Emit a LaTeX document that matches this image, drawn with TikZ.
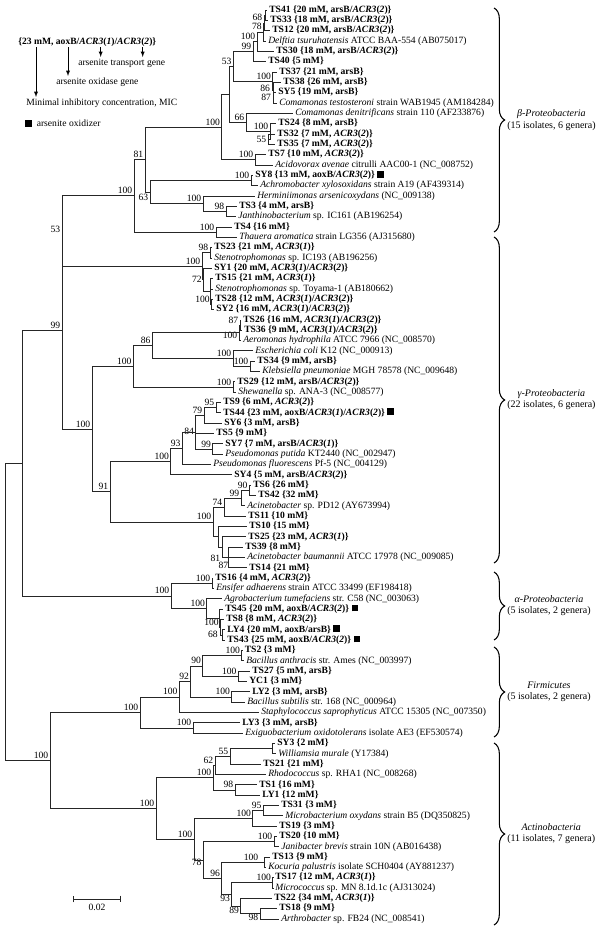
\documentclass[tikz,border=0pt]{standalone}
\usepackage{fontspec}
\setmainfont{Liberation Serif}
\usetikzlibrary{calc,decorations.pathreplacing,arrows.meta}

\newcommand\acr[1]{\textit{ACR3}(\textit{#1})}
\newcommand\sq{~\rule{5pt}{5pt}}
% leaf: name, row, tip x, text
\newcommand\leaf[4]{\node[leaf] (#1) at (#3,{10+(#2-1)*10.33}) {#4};}
% isolate: [extra], name, row, tip x, {MIC, genes}
\newcommand\iso[5][]{\leaf{#2}{#3}{#4}{\textbf{#2 \{#5\}}#1}}
% clade: [label opts], name, x, children, bootstrap
\newcommand\clade[5][]{%
  \foreach \ch [count=\i] in {#4} {\ifnum\i=1 \xdef\cfirst{\ch}\fi \xdef\clast{\ch}}%
  \coordinate (#2mid) at ($(\cfirst)!.5!(\clast)$);
  \coordinate (#2xx) at (#3,0);
  \coordinate (#2) at (#2mid -| #2xx);
  \foreach \ch in {#4} \draw[branch] (#2) |- (\ch);
  \if\relax\detokenize{#5}\relax\else
    \node[boot,#1] (#2lab) at ($(#2)+(-1.5,-2)$) {#5};
  \fi}

\begin{document}
\begin{tikzpicture}[
x=0.75pt, y=-0.75pt,
branch/.style={
  draw=black!85,
  line width=0.6pt
  },
leaf/.style={
  anchor=west,
  inner xsep=1.5pt,
  inner ysep=0pt,
  text height=5pt,
  text depth=1.6pt,
  font=\fontsize{7.2}{8}\selectfont
  },
boot/.style={
  anchor=base east,
  inner sep=0pt,
  font=\fontsize{7.2}{8}\selectfont
  },
legtext/.style={
  anchor=west,
  inner xsep=0pt,
  inner ysep=1pt,
  text height=5pt,
  text depth=1.6pt,
  font=\fontsize{7.2}{8}\selectfont
  },
gbrace/.style={
  decorate,
  decoration={brace,amplitude=8pt},
  line width=0.8pt
  },
grp/.style={
  anchor=west,
  inner sep=0pt,
  align=center,
  font=\fontsize{7.5}{8.4}\selectfont
  },
>=latex
]
\useasboundingbox (0,0) rectangle (600,927);

% legend
\node[legtext] (key) at (18,42) {\textbf{\{23 mM, aoxB/\acr{1}/\acr{2}\}}};
\node[legtext] (trg) at (78,63) {arsenite transport gene};
\node[legtext] (oxg) at (56,82) {arsenite oxidase gene};
\node[legtext] (mic) at (26,103) {Minimal inhibitory concentration, MIC};
\coordinate (k1) at (36,47.5);
\coordinate (k2) at (68,47.5);
\coordinate (k3) at (100.7,47.5);
\coordinate (k4) at (142.7,47.5);
\draw[->] (k1) -- (k1 |- mic.north);
\draw[->] (k2) -- (k2 |- oxg.north);
\draw[->] (k3) -- (k3 |- trg.north);
\draw[->] (k4) -- (k4 |- trg.north);
\node[fill, inner sep=0pt, minimum size=5.2pt] (oxsq) at (28.5,123.5) {};
\node[legtext] (oxl) at (36.5,124) {arsenite oxidizer};

% leaves, top to bottom
\iso{TS41}{1}{267}{20 mM, arsB/\acr{2}}
\iso{TS33}{2}{268}{18 mM, arsB/\acr{2}}
\iso{TS12}{3}{270}{20 mM, arsB/\acr{2}}
\leaf{Delftia}{4}{266}{\textit{Delftia tsuruhatensis} ATCC BAA-554 (AB075017)}
\iso{TS30}{5}{274}{18 mM, arsB/\acr{2}}
\iso{TS40}{6}{266}{5 mM}
\iso{TS37}{7}{277}{21 mM, arsB}
\iso{TS38}{8}{281}{26 mM, arsB}
\iso{SY5}{9}{276}{19 mM, arsB}
\leaf{Ctest}{10}{277}{\textit{Comamonas testosteroni} strain WAB1945 (AM184284)}
\leaf{Cdenit}{11}{293}{\textit{Comamonas denitrificans} strain 110 (AF233876)}
\iso{TS24}{12}{276}{8 mM, arsB}
\iso{TS32}{13}{275}{7 mM, \acr{2}}
\iso{TS35}{14}{275}{7 mM, \acr{2}}
\iso{TS7}{15}{266}{10 mM, \acr{2}}
\leaf{Acido}{16}{273}{\textit{Acidovorax avenae} citrulli AAC00-1 (NC\_008752)}
\iso[\sq]{SY8}{17}{253}{13 mM, aoxB/\acr{2}}
\leaf{Achro}{18}{258}{\textit{Achromobacter xylosoxidans} strain A19 (AF439314)}
\leaf{Hermin}{19}{255}{\textit{Herminiimonas arsenicoxydans} (NC\_009138)}
\iso{TS3}{20}{237}{4 mM, arsB}
\leaf{Janth}{21}{236}{\textit{Janthinobacterium} sp. IC161 (AB196254)}
\iso{TS4}{22}{232}{16 mM}
\leaf{Thauera}{23}{237}{\textit{Thauera aromatica} strain LG356 (AJ315680)}
\iso{TS23}{24}{212}{21 mM, \acr{1}}
\leaf{StenoA}{25}{212}{\textit{Stenotrophomonas} sp. IC193 (AB196256)}
\iso{SY1}{26}{212}{20 mM, \acr{1}/\acr{2}}
\iso{TS15}{27}{213}{21 mM, \acr{1}}
\leaf{StenoB}{28}{213}{\textit{Stenotrophomonas} sp. Toyama-1 (AB180662)}
\iso{TS28}{29}{213}{12 mM, \acr{1}/\acr{2}}
\iso{SY2}{30}{214}{16 mM, \acr{1}/\acr{2}}
\iso{TS26}{31}{241}{16 mM, \acr{1}/\acr{2}}
\iso{TS36}{32}{242}{9 mM, \acr{1}/\acr{2}}
\leaf{Aerom}{33}{241}{\textit{Aeromonas hydrophila} ATCC 7966 (NC\_008570)}
\leaf{Ecoli}{34}{253}{\textit{Escherichia coli} K12 (NC\_000913)}
\iso{TS34}{35}{255}{9 mM, arsB}
\leaf{Klebs}{36}{260}{\textit{Klebsiella pneumoniae} MGH 78578 (NC\_009648)}
\iso{TS29}{37}{235}{12 mM, arsB/\acr{2}}
\leaf{Shewa}{38}{236}{\textit{Shewanella} sp. ANA-3 (NC\_008577)}
\iso{TS9}{39}{221}{6 mM, \acr{2}}
\iso[\sq]{TS44}{40}{221}{23 mM, aoxB/\acr{1}/\acr{2}}
\iso{SY6}{41}{222}{3 mM, arsB}
\iso{TS5}{42}{214}{9 mM}
\iso{SY7}{43}{223}{7 mM, arsB/\acr{1}}
\leaf{Pputida}{44}{223}{\textit{Pseudomonas putida} KT2440 (NC\_002947)}
\leaf{Pfluor}{45}{211}{\textit{Pseudomonas fluorescens} Pf-5 (NC\_004129)}
\iso{SY4}{46}{232}{5 mM, arsB/\acr{2}}
\iso{TS6}{47}{251}{26 mM}
\iso{TS42}{48}{256}{32 mM}
\leaf{AcinA}{49}{245}{\textit{Acinetobacter} sp. PD12 (AY673994)}
\iso{TS11}{50}{246}{10 mM}
\iso{TS10}{51}{247}{15 mM}
\iso{TS25}{52}{246}{23 mM, \acr{1}}
\iso{TS39}{53}{243}{8 mM}
\leaf{AcinB}{54}{245}{\textit{Acinetobacter baumannii} ATCC 17978 (NC\_009085)}
\iso{TS14}{55}{247}{21 mM}
\iso{TS16}{56}{213}{4 mM, \acr{2}}
\leaf{Ensif}{57}{214}{\textit{Ensifer adhaerens} strain ATCC 33499 (EF198418)}
\leaf{Agrob}{58}{222}{\textit{Agrobacterium tumefaciens} str. C58 (NC\_003063)}
\iso[\sq]{TS45}{59}{223}{20 mM, aoxB/\acr{2}}
\iso{TS8}{60}{224}{8 mM, \acr{2}}
\iso[\sq]{LY4}{61}{225}{20 mM, aoxB/arsB}
\iso[\sq]{TS43}{62}{225}{25 mM, aoxB/\acr{2}}
\iso{TS2}{63}{242.5}{3 mM}
\leaf{Banth}{64}{244}{\textit{Bacillus anthracis} str. Ames (NC\_003997)}
\iso{TS27}{65}{250}{5 mM, arsB}
\iso{YC1}{66}{247}{3 mM}
\iso{LY2}{67}{250}{3 mM, arsB}
\leaf{Bsubt}{68}{245}{\textit{Bacillus subtilis} str. 168 (NC\_000964)}
\leaf{Staph}{69}{259}{\textit{Staphylococcus saprophyticus} ATCC 15305 (NC\_007350)}
\iso{LY3}{70}{240}{3 mM, arsB}
\leaf{Exigu}{71}{243}{\textit{Exiguobacterium oxidotolerans} isolate AE3 (EF530574)}
\iso{SY3}{72}{275}{2 mM}
\leaf{Willi}{73}{276}{\textit{Williamsia murale} (Y17384)}
\iso{TS21}{74}{261}{21 mM}
\leaf{Rhodo}{75}{266}{\textit{Rhodococcus} sp. RHA1 (NC\_008268)}
\iso{TS1}{76}{257}{16 mM}
\iso{LY1}{77}{260}{12 mM}
\iso{TS31}{78}{279}{3 mM}
\leaf{Micro}{79}{283}{\textit{Microbacterium oxydans} strain B5 (DQ350825)}
\iso{TS19}{80}{277}{3 mM}
\iso{TS20}{81}{277}{10 mM}
\leaf{Janib}{82}{279}{\textit{Janibacter brevis} strain 10N (AB016438)}
\iso{TS13}{83}{270}{9 mM}
\leaf{Kocur}{84}{266}{\textit{Kocuria palustris} isolate SCH0404 (AY881237)}
\iso{TS17}{85}{273}{12 mM, \acr{1}}
\leaf{Micrc}{86}{273}{\textit{Micrococcus} sp. MN 8.1d.1c (AJ313024)}
\iso{TS22}{87}{272}{34 mM, \acr{1}}
\iso{TS18}{88}{277}{9 mM}
\leaf{Arthr}{89}{279}{\textit{Arthrobacter} sp. FB24 (NC\_008541)}

% beta-Proteobacteria
\clade{cTop1}{265}{TS41,TS33}{}
\clade{cTop2}{264}{cTop1,TS12}{68}
\clade{cTop3}{263.5}{cTop2,Delftia}{78}
\clade{cTop4}{257}{cTop3,TS30}{100}
\clade{c99a}{253}{cTop4,TS40}{99}
\clade[shift={(-1,4.5)}]{c87a}{273.7}{SY5,Ctest}{87}
\clade[shift={(-1.5,3.5)}]{c86a}{273.2}{TS38,c87a}{86}
\clade{c100a}{272.7}{TS37,c86a}{100}
\clade{c53a}{233.3}{c99a,c100a}{53}
\clade[shift={(0,5)}]{c55a}{268}{TS32,TS35}{55}
\clade{c100b}{270}{TS24,c55a}{100}
\clade{c66a}{246}{Cdenit,c100b}{66}
\clade{cX}{229}{c53a,c66a}{}
\clade{c100c}{255}{TS7,Acido}{100}
\clade{c100d}{221.7}{cX,c100c}{100}
\clade{c100e}{251}{SY8,Achro}{100}
\clade{c98a}{226}{TS3,Janth}{98}
\clade{c100f}{203}{Hermin,c98a}{100}
\clade[shift={(0,10)}]{c63}{150}{c100e,c100f}{63}
\clade{c81}{145}{c100d,c63}{81}
\clade{c100g}{216}{TS4,Thauera}{100}
\clade{beta}{134}{c81,c100g}{100}

% gamma-Proteobacteria
\clade{c98b}{210}{TS23,StenoA}{98}
\clade{c100h}{211.5}{TS28,SY2}{100}
\clade{cSt}{210.5}{TS15,StenoB,c100h}{}
\clade[shift={(0,5)}]{c72}{203.5}{SY1,cSt}{72}
\clade{c100i}{202}{c98b,c72}{100}
\clade[shift={(0,3)}]{c53b}{62}{beta,c100i}{53}
\clade{c87b}{240}{TS26,TS36}{87}
\clade[shift={(0,8)}]{c100j}{239}{c87b,Aerom}{100}
\clade{c100k}{250}{TS34,Klebs}{100}
\clade{c100l}{233}{Ecoli,c100k}{100}
\clade{c86b}{152.3}{c100j,c100l}{86}
\clade{c100m}{233}{TS29,Shewa}{100}
\clade{c100n}{133.3}{c86b,c100m}{100}
\clade{c95a}{216}{TS9,TS44}{95}
\clade{c79}{204}{c95a,SY6}{79}
\clade{c99b}{212.7}{SY7,Pputida}{99}
\clade[shift={(0,4)}]{c84}{195.7}{c79,TS5,c99b}{84}
\clade{c93a}{182.3}{c84,Pfluor}{93}
\clade{c100o}{170.7}{c93a,SY4}{100}
\clade{c90a}{249.3}{TS6,TS42}{90}
\clade{c99c}{241}{c90a,AcinA}{99}
\clade{c74}{224}{c99c,TS11}{74}
\clade[shift={(2,13)}]{c87c}{228}{TS39,AcinB,TS14}{87}
\clade[shift={(0,16)}]{c81b}{222}{TS25,c87c}{81}
\clade{cTS10}{218}{TS10,c81b}{}
\clade{c100p}{213}{c74,cTS10}{100}
\clade{c91}{110}{c100o,c100p}{91}
\clade{c100q}{92}{c100n,c91}{100}
\clade{c99d}{62}{c53b,c100q}{99}

% alpha-Proteobacteria
\clade{c100r}{212}{TS16,Ensif}{100}
\clade[shift={(-2.5,5)}]{c68b}{222}{LY4,TS43}{68}
\clade{c100s}{220.5}{TS8,c68b}{100}
\clade{cTS45}{219}{TS45,c100s}{}
\clade{c100t}{206.7}{Agrob,cTS45}{100}
\clade{alpha}{171}{c100r,c100t}{100}
\clade{cA}{22.7}{c99d,alpha}{}

% Firmicutes
\clade{c100u}{241.7}{TS2,Banth}{100}
\clade{c100v}{238.3}{TS27,YC1}{100}
\clade{c90b}{202.7}{c100u,c100v}{90}
\clade{c100w}{231.7}{LY2,Bsubt}{100}
\clade{c92}{190.7}{c90b,c100w}{92}
\clade{c100x}{179.3}{c92,Staph}{100}
\clade{c100y}{193}{LY3,Exigu}{100}
\clade{firm}{140}{c100x,c100y}{100}

% Actinobacteria
\clade{cSY3}{272.7}{SY3,Willi}{}
\clade{c55b}{230}{cSY3,TS21}{55}
\clade{c62}{215}{c55b,Rhodo}{62}
\clade{c98c}{235}{TS1,LY1}{98}
\clade{c100z}{213}{c62,c98c}{100}
\clade{c95b}{263.3}{TS31,Micro}{95}
\clade{c100aa}{252.7}{c95b,TS19}{100}
\clade{c100ab}{274}{TS20,Janib}{100}
\clade[shift={(-4,0)}]{c100ac}{264}{TS13,Kocur}{100}
\clade{c100ad}{272.7}{TS17,Micrc}{100}
\clade[shift={(0,9)}]{c98d}{260}{TS18,Arthr}{98}
\clade[shift={(0,9)}]{c89}{240.7}{TS22,c98d}{89}
\clade[shift={(0,9)}]{c93b}{231.7}{c100ad,c89}{93}
\clade{c96}{221.7}{c100ac,c93b}{96}
\clade[shift={(0,8)}]{c78}{203.3}{c100ab,c96}{78}
\clade{c100ae}{194}{c100aa,c78}{100}
\clade{act}{156}{c100z,c100ae}{100}
\clade{gp}{50}{firm,act}{100}
\clade{root}{5}{cA,gp}{}

% groups
\draw[gbrace] (494,8) -- (494,232);
\node[grp] (gbeta) at (507,120) {\textit{β-Proteobacteria}\\(15 isolates, 6 genera)};
\draw[gbrace] (494,237) -- (494,563);
\node[grp] (ggamma) at (507,400) {\textit{γ-Proteobacteria}\\(22 isolates, 6 genera)};
\draw[gbrace] (494,572) -- (494,640);
\node[grp] (galpha) at (507,606) {\textit{α-Proteobacteria}\\(5 isolates, 2 genera)};
\draw[gbrace] (494,647) -- (494,737);
\node[grp] (gfirm) at (507,692) {\textit{Firmicutes}\\(5 isolates, 2 genera)};
\draw[gbrace] (494,743) -- (494,925);
\node[grp] (gact) at (507,834) {\textit{Actinobacteria}\\(11 isolates, 7 genera)};

% scale bar
\coordinate (sbl) at (73,899);
\coordinate (sbr) at (121,899);
\draw[branch,{Bar[width=5pt]}-{Bar[width=5pt]}] (sbl) -- (sbr);
\node[boot, anchor=center] (sblab) at (97,907) {0.02};

\end{tikzpicture}
\end{document}
